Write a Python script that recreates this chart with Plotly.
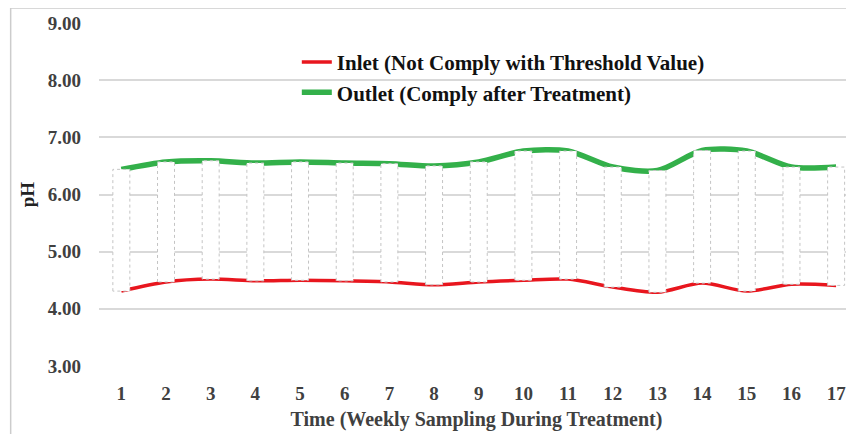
import plotly.graph_objects as go

weeks = list(range(1, 18))
inlet = [4.31, 4.47, 4.52, 4.49, 4.50, 4.49, 4.47, 4.42, 4.47, 4.50, 4.52, 4.38, 4.29, 4.45, 4.31, 4.43, 4.41]
outlet = [6.44, 6.57, 6.59, 6.55, 6.57, 6.55, 6.54, 6.50, 6.57, 6.76, 6.76, 6.48, 6.42, 6.77, 6.76, 6.48, 6.48]
tick_labels = [str(w) for w in weeks]
y_ticks = [3, 4, 5, 6, 7, 8, 9]

FONT = "Liberation Serif"
half = 0.19

fig = go.Figure()
fig.add_trace(go.Scatter(x=weeks, y=inlet, mode="lines", line=dict(color="#E8161E", width=3.5, shape="spline", smoothing=0.8),
                         name="Inlet (Not Comply with Threshold Value)", legendgroup="a"))
fig.add_trace(go.Scatter(x=weeks, y=outlet, mode="lines", line=dict(color="#33B04A", width=5.5, shape="spline", smoothing=0.8),
                         name="Outlet (Comply after Treatment)", legendgroup="b"))

bx, by = [], []
for w, lo, hi in zip(weeks, inlet, outlet):
    bx += [w - half, w - half, w + half, w + half, w - half, None]
    by += [lo, hi, hi, lo, lo, None]
fig.add_trace(go.Scatter(x=bx, y=by, mode="lines", fill="toself", fillcolor="white",
                         line=dict(color="#c4c4c4", width=1, dash="dot"), showlegend=False, hoverinfo="skip"))

fig.update_layout(
    width=846, height=426,
    margin=dict(l=91, r=0, t=15, b=68),
    paper_bgcolor="white", plot_bgcolor="white",
    font=dict(family=FONT, color="#404040"),
    legend=dict(x=0.262, y=0.945, xanchor="left", yanchor="top", bgcolor="rgba(0,0,0,0)",
                font=dict(family=FONT, size=21, color="#111111", weight="bold"), tracegroupgap=0),
    showlegend=True,
)
fig.update_xaxes(range=[0.5, 17.4], tickvals=weeks, ticktext=tick_labels, showgrid=False, zeroline=False,
                 showline=False, ticks="", ticklabelstandoff=14,
                 tickfont=dict(family=FONT, size=19, color="#404040", weight="bold"),
                 title=dict(text="Time (Weekly Sampling During Treatment)", standoff=8,
                            font=dict(family=FONT, size=20, color="#404040", weight="bold")))
fig.update_yaxes(range=[3, 9], tickvals=y_ticks, tickformat=".2f", showgrid=True, gridcolor="#d9d9d9", gridwidth=1.5,
                 zeroline=False, showline=False, ticks="", ticklabelstandoff=17,
                 tickfont=dict(family=FONT, size=19, color="#404040", weight="bold"),
                 title=dict(text="pH", standoff=8, font=dict(family=FONT, size=19, color="#222222", weight="bold")))

fig.add_shape(type="rect", xref="paper", yref="paper", x0=-0.117, x1=1.2, y0=-0.5, y1=1.044,
              line=dict(color="#cccccc", width=1.5), fillcolor="rgba(0,0,0,0)", layer="above")

fig.write_html("out.html")
